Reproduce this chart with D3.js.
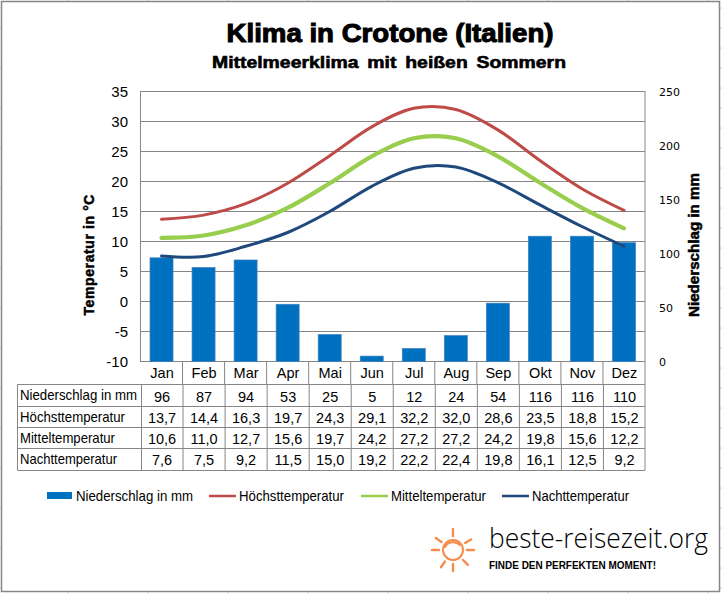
<!DOCTYPE html>
<html><head><meta charset="utf-8">
<script src="https://cdn.jsdelivr.net/npm/d3@7/dist/d3.min.js"></script>
<style>
html,body{margin:0;padding:0;background:#fff}
svg{display:block}
text{font-family:"Liberation Sans",Arial,sans-serif;fill:#000}
</style></head><body>
<svg id="c" width="722" height="594"></svg>
<script>
const months=["Jan","Feb","Mar","Apr","Mai","Jun","Jul","Aug","Sep","Okt","Nov","Dez"];
const rain=[96,87,94,53,25,5,12,24,54,116,116,110];
const high=[13.7,14.4,16.3,19.7,24.3,29.1,32.2,32.0,28.6,23.5,18.8,15.2];
const mean=[10.6,11.0,12.7,15.6,19.7,24.2,27.2,27.2,24.2,19.8,15.6,12.2];
const low=[7.6,7.5,9.2,11.5,15.0,19.2,22.2,22.4,19.8,16.1,12.5,9.2];
const tempTicks=[-10,-5,0,5,10,15,20,25,30,35];
const rainTicks=[0,50,100,150,200,250];
const rowLabels=["Niederschlag in mm","Höchsttemperatur","Mitteltemperatur","Nachttemperatur"];
const fmt=v=>v.toFixed(1).replace(".",",");
const rows=[rain.map(String),high.map(fmt),mean.map(fmt),low.map(fmt)];
const rowLabelWidths=[117,105,95,97];
const legendItems=[["Niederschlag in mm","#0070c0",46,117],["Höchsttemperatur","#be4b48",209,105],["Mitteltemperatur","#98cd4d",361,95],["Nachttemperatur","#1f497d",502,97]];

const svg=d3.select("#c");
const L=140.5,R=645,T=91.5,B=361.5;
const x=d3.scaleBand().domain(months).range([L,R]);
const yT=d3.scaleLinear().domain([-10,35]).range([B,T]);
const yR=d3.scaleLinear().domain([0,250]).range([B,T]);
const gray="#868686";

// faint sheet grid ticks outside the frame
const faint="#d4d4e0";
const fg=svg.append("g").attr("stroke",faint);
d3.range(68,722,80).forEach(v=>{fg.append("line").attr("x1",v).attr("x2",v).attr("y1",0).attr("y2",1);fg.append("line").attr("x1",v).attr("x2",v).attr("y1",592).attr("y2",594);});
d3.range(8,594,20).forEach(v=>{fg.append("line").attr("x1",0).attr("x2",1).attr("y1",v).attr("y2",v);fg.append("line").attr("x1",720).attr("x2",722).attr("y1",v).attr("y2",v);});

svg.append("rect").attr("x",1.5).attr("y",1.5).attr("width",718).attr("height",590).attr("fill","#fff").attr("stroke",gray).attr("stroke-width",1.5);

// titles
svg.append("text").attr("x",390).attr("y",42).attr("text-anchor","middle").attr("font-size",25).attr("font-weight","bold")
  .attr("stroke","#000").attr("stroke-width",1).attr("textLength",327).attr("lengthAdjust","spacingAndGlyphs").text("Klima in Crotone (Italien)");
svg.append("text").attr("x",389).attr("y",68).attr("text-anchor","middle").attr("font-size",17).attr("font-weight","bold")
  .attr("stroke","#000").attr("stroke-width",.6).attr("textLength",354).attr("lengthAdjust","spacingAndGlyphs").style("word-spacing","3px").text("Mittelmeerklima mit heißen Sommern");

// grid
svg.append("g").selectAll("line").data(tempTicks).join("line")
  .attr("x1",L).attr("x2",R).attr("y1",d=>yT(d)).attr("y2",d=>yT(d)).attr("stroke",gray);
svg.append("rect").attr("x",L).attr("y",T).attr("width",R-L).attr("height",B-T).attr("fill","none").attr("stroke",gray);

// bars
const bw=23;
svg.append("g").selectAll("rect").data(rain).join("rect")
  .attr("x",(d,i)=>x(months[i])+x.bandwidth()/2-bw/2).attr("width",bw)
  .attr("y",d=>yR(d)).attr("height",d=>B-yR(d)).attr("fill","#0070c0").attr("stroke","#3f7fbf").attr("stroke-width",.7);

// lines
const line=d3.line().x((d,i)=>x(months[i])+x.bandwidth()/2).y(d=>yT(d)).curve(d3.curveCardinal.tension(0));
[[high,"#be4b48",3],[mean,"#98cd4d",4.2],[low,"#1f497d",3]].forEach(([s,c,w])=>{
  svg.append("path").attr("d",line(s)).attr("fill","none").attr("stroke",c).attr("stroke-width",w).attr("stroke-linecap","round");
});

// axes
const ax=svg.append("g").attr("transform",`translate(${L},0)`).call(d3.axisLeft(yT).tickValues(tempTicks).tickSize(0).tickPadding(12.5).tickFormat(d=>String(d)));
ax.select(".domain").remove();
ax.selectAll("text").attr("font-size",15).style("font-family",'"Liberation Sans"').attr("fill","#000");
const ar=svg.append("g").attr("transform",`translate(${R},0)`).call(d3.axisRight(yR).tickValues(rainTicks).tickSize(0).tickPadding(14));
ar.select(".domain").remove();
ar.selectAll("text").attr("font-size",11).style("font-family",'"DejaVu Sans"').attr("fill","#000");

svg.append("text").attr("transform","translate(94,255) rotate(-90)").attr("text-anchor","middle").attr("font-size",14).attr("font-weight","bold").attr("stroke","#000").attr("stroke-width",.5).attr("textLength",121).attr("lengthAdjust","spacing").text("Temperatur in °C");
svg.append("text").attr("transform","translate(699,245) rotate(-90)").attr("text-anchor","middle").attr("font-size",14.5).attr("font-weight","bold").attr("stroke","#000").attr("stroke-width",.5).attr("textLength",144).attr("lengthAdjust","spacingAndGlyphs").text("Niederschlag in mm");

// table
const rowY=d3.scaleOrdinal().domain([0,1,2,3,4]).range([384.5,406.5,427.5,448.5,470.5]);
const tg=svg.append("g");
const hl=(x1,x2,y)=>tg.append("line").attr("x1",x1).attr("x2",x2).attr("y1",y).attr("y2",y).attr("stroke",gray);
const vl=(xx,y1,y2)=>tg.append("line").attr("x1",xx).attr("x2",xx).attr("y1",y1).attr("y2",y2).attr("stroke",gray);
[0,1,2,3,4].forEach(i=>hl(17.5,R,rowY(i)));
vl(17.5,384.5,470.5); vl(141.5,384.5,470.5);
months.forEach((m,i)=>{
  const xx=x(m);
  if(i>0){vl(xx,B,384.5);vl(xx+.5,384.5,470.5);}
  tg.append("text").attr("x",xx+x.bandwidth()/2+.5).attr("y",378).attr("text-anchor","middle").attr("font-size",14.5).text(m);
});
vl(R,B,470.5);
rowLabels.forEach((l,r)=>{
  tg.append("text").attr("x",20).attr("y",rowY(r)+15).attr("font-size",14.5).attr("textLength",rowLabelWidths[r]).attr("lengthAdjust","spacingAndGlyphs").text(l);
  rows[r].forEach((v,i)=>{
    tg.append("text").attr("x",x(months[i])+x.bandwidth()/2+.5).attr("y",rowY(r)+(r===0?17:16.5)).attr("text-anchor","middle").attr("font-size",14.5).text(v);
  });
});

// legend
const lg=svg.append("g");
legendItems.forEach(([t,c,xx,w],i)=>{
  if(i===0) lg.append("rect").attr("x",xx+1).attr("y",492).attr("width",25).attr("height",7).attr("fill",c);
  else lg.append("line").attr("x1",xx).attr("x2",xx+27).attr("y1",496).attr("y2",496).attr("stroke",c).attr("stroke-width",2.5);
  lg.append("text").attr("x",xx+30).attr("y",501).attr("font-size",14.5).attr("textLength",w).attr("lengthAdjust","spacingAndGlyphs").text(t);
});

// logo
const sun=svg.append("g").attr("transform","translate(453,550)").attr("stroke","#f58b4c").attr("fill","none").attr("stroke-linecap","round");
sun.append("circle").attr("r",10).attr("stroke-width",2);
sun.append("path").attr("d","M-8,-3 C-5,-9 3,-9 7,-5").attr("stroke-width",2);
const rayAngles=[-90,-30,0,45,90,125,180,215];
sun.selectAll(".ray").data(rayAngles).join("line").attr("class","ray").attr("stroke-width",2.4)
  .attr("x1",d=>14*Math.cos(d*Math.PI/180)).attr("y1",d=>14*Math.sin(d*Math.PI/180))
  .attr("x2",d=>21*Math.cos(d*Math.PI/180)).attr("y2",d=>21*Math.sin(d*Math.PI/180));
svg.append("text").attr("x",489).attr("y",548).attr("font-size",28).style("font-family",'"Open Sans"').style("font-weight",300).attr("fill","#222").attr("textLength",219).attr("lengthAdjust","spacingAndGlyphs").text("beste-reisezeit.org");
svg.append("text").attr("x",489).attr("y",569).attr("font-size",10.5).attr("font-weight","bold").attr("fill","#222").attr("textLength",167).attr("lengthAdjust","spacingAndGlyphs").text("FINDE DEN PERFEKTEN MOMENT!");
</script>
</body></html>
